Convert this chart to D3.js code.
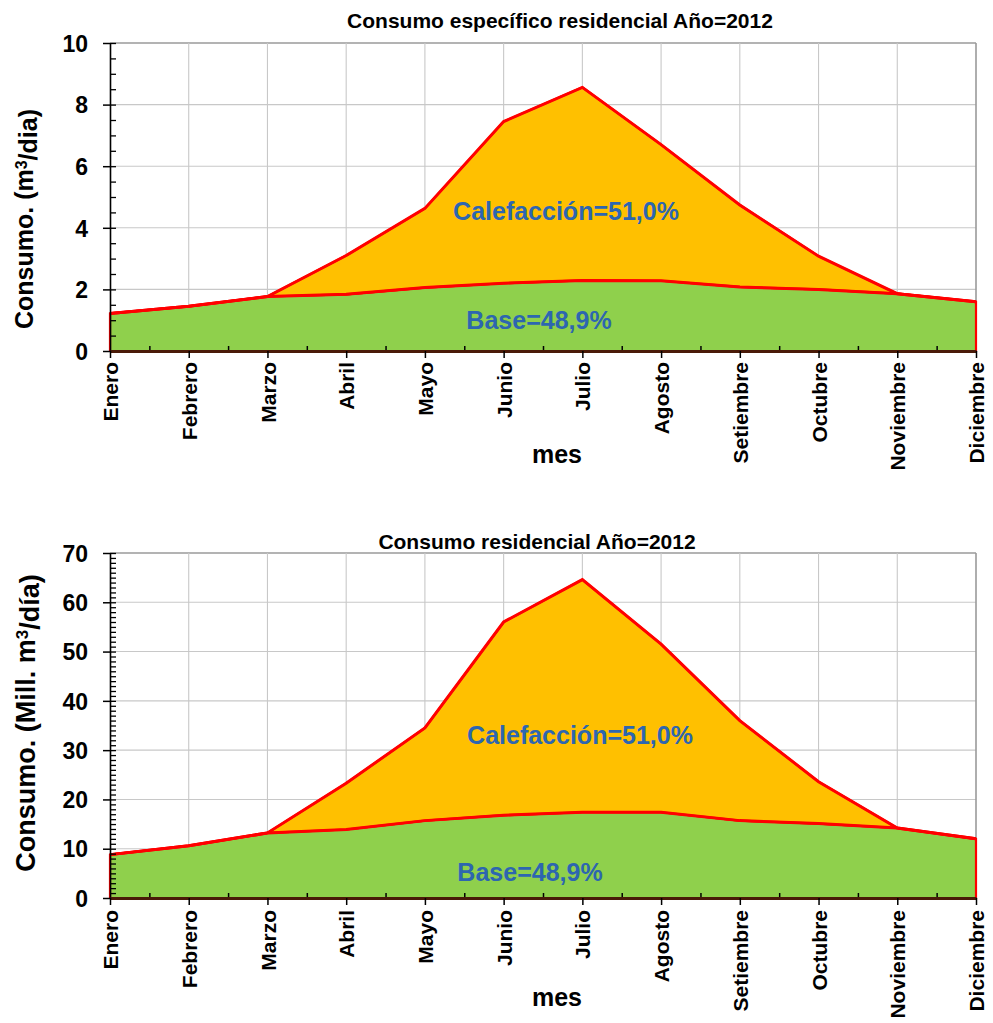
<!DOCTYPE html>
<html><head><meta charset="utf-8">
<script src="https://cdn.jsdelivr.net/npm/d3@7"></script>
<style>
body{margin:0;background:#fff}
svg text{font-family:"Liberation Sans",Arial,Helvetica,sans-serif;font-weight:bold;fill:#000}
</style>
</head><body>
<svg id="chart" width="993" height="1023"></svg>
<script>
// ---- data ----
const months = ["Enero","Febrero","Marzo","Abril","Mayo","Junio","Julio","Agosto","Setiembre","Octubre","Noviembre","Diciembre"];
// Consumo específico residencial (m3/dia)
const baseEsp  = [1.22, 1.45, 1.77, 1.84, 2.06, 2.20, 2.29, 2.28, 2.08, 2.00, 1.86, 1.60];
const totalEsp = [1.22, 1.45, 1.77, 3.10, 4.63, 7.45, 8.56, 6.70, 4.74, 3.08, 1.86, 1.60];
// Consumo residencial (Mill. m3/dia)
const baseRes  = [8.8, 10.6, 13.2, 13.9, 15.7, 16.8, 17.4, 17.4, 15.7, 15.1, 14.2, 12.0];
const totalRes = [8.8, 10.6, 13.2, 23.3, 34.5, 56.0, 64.6, 51.5, 36.0, 23.6, 14.2, 12.0];
const yTicksEsp = [0, 2, 4, 6, 8, 10];
const yTicksRes = [0, 10, 20, 30, 40, 50, 60, 70];
const titleEsp = "Consumo específico residencial Año=2012";
const titleRes = "Consumo residencial Año=2012";
const xTitle = "mes";
const labelCalef = "Calefacción=51,0%";
const labelBase = "Base=48,9%";

const svg = d3.select("#chart");

function drawChart(cfg){
  const g = svg.append("g");
  const x = d3.scaleLinear().domain([0, months.length-1]).range([110, 976]);
  const y = d3.scaleLinear().domain([0, cfg.yTicks[cfg.yTicks.length-1]]).range([cfg.bottom, cfg.top]);
  const idx = d3.range(months.length);
  const yMax = cfg.yTicks[cfg.yTicks.length-1];

  // gridlines
  g.append("g").selectAll("line").data(cfg.yTicks.slice(1)).join("line")
    .attr("x1", x(0)).attr("x2", x(11)).attr("y1", d=>y(d)).attr("y2", d=>y(d))
    .attr("stroke", d=> d===yMax ? "#9a9a9a" : "#c8c8c8")
    .attr("stroke-width", d=> d===yMax ? 1.6 : 1.1);
  g.append("g").selectAll("line").data(idx.slice(1)).join("line")
    .attr("x1", d=>x(d)).attr("x2", d=>x(d)).attr("y1", y(0)).attr("y2", y(yMax))
    .attr("stroke", d=> d===11 ? "#9a9a9a" : "#c8c8c8").attr("stroke-width", d=> d===11 ? 1.6 : 1.1);

  // areas
  const areaBase = d3.area().x((d,i)=>x(i)).y0(y(0)).y1(d=>y(d));
  const areaHeat = d3.area().x((d,i)=>x(i)).y0((d,i)=>y(cfg.base[i])).y1(d=>y(d));
  g.append("path").datum(cfg.base).attr("d", areaBase)
    .attr("fill", "#8fd04c").attr("stroke", "#ff0000").attr("stroke-width", 2.2);
  g.append("path").datum(cfg.total).attr("d", areaHeat)
    .attr("fill", "#ffc000").attr("stroke", "#ff0000").attr("stroke-width", 2.2);
  const line = d3.line().x((d,i)=>x(i)).y(d=>y(d));
  g.append("path").datum(cfg.base).attr("d", line).attr("fill","none").attr("stroke","#ff0000").attr("stroke-width",3);
  g.append("path").datum(cfg.total).attr("d", line).attr("fill","none").attr("stroke","#ff0000").attr("stroke-width",3);

  // y axis: minor ticks (right side)
  const step = cfg.minorStep;
  const minor = d3.range(0, yMax + step/2, step);
  const yMinor = g.append("g").attr("transform", `translate(${x(0)},0)`)
    .call(d3.axisRight(y).tickValues(minor).tickSize(6).tickFormat(""));
  yMinor.select(".domain").remove();
  yMinor.selectAll("line").attr("stroke","#000").attr("stroke-width",1.3);
  const yAx = g.append("g").attr("transform", `translate(${x(0)},0)`)
    .call(d3.axisLeft(y).tickValues(cfg.yTicks).tickSize(7).tickPadding(15).tickSizeOuter(0));
  yAx.select(".domain").attr("stroke","#000").attr("stroke-width",1.6);
  yAx.selectAll("line").attr("stroke","#000").attr("stroke-width",1.5);
  yAx.selectAll("text").style("font-size","23px").attr("dy","0.36em");

  // x axis
  const xMinor = g.append("g").attr("transform", `translate(0,${y(0)})`)
    .call(d3.axisTop(x).tickValues(idx.slice(0,-1).map(d=>d+0.5)).tickSize(5).tickFormat(""));
  xMinor.select(".domain").remove();
  xMinor.selectAll("line").attr("stroke","#000").attr("stroke-width",1.5);
  const xAx = g.append("g").attr("transform", `translate(0,${y(0)})`)
    .call(d3.axisBottom(x).tickValues(idx).tickSize(7).tickSizeOuter(0).tickFormat(i=>months[i]));
  xAx.select(".domain").attr("stroke","#4a1a08").attr("stroke-width",3);
  xAx.selectAll("line").attr("stroke","#000").attr("stroke-width",1.5);
  xAx.selectAll("text")
    .attr("transform","rotate(-90)").attr("x", -cfg.labelGap).attr("y", 0).attr("dy","0.36em")
    .style("text-anchor","end").style("font-size","21px");

  // titles
  g.append("text").attr("x", cfg.titleX).attr("y", cfg.titleY).attr("text-anchor","middle")
    .style("font-size","21px").text(cfg.title);
  g.append("text").attr("x", 557).attr("y", cfg.xTitleY).attr("text-anchor","middle")
    .style("font-size","25px").text(xTitle);
  const yt = g.append("text").attr("transform", `translate(${cfg.yTitleX},${cfg.yTitleC}) rotate(-90)`)
    .attr("text-anchor","middle").style("font-size", cfg.yTitleSize + "px");
  yt.append("tspan").text(cfg.yTitleA);
  yt.append("tspan").attr("dy","-0.4em").style("font-size", Math.round(cfg.yTitleSize*0.62) + "px").text("3");
  yt.append("tspan").attr("dy","0.4em").text(cfg.yTitleB);

  // annotations
  g.append("text").attr("x", cfg.calefX).attr("y", cfg.calefY).attr("text-anchor","middle")
    .style("font-size","25px").style("fill","#2d66b0").text(labelCalef);
  g.append("text").attr("x", cfg.baseX).attr("y", cfg.baseY).attr("text-anchor","middle")
    .style("font-size","25px").style("fill","#2d66b0").text(labelBase);
}

drawChart({top:43, bottom:351, yTicks:yTicksEsp, minorStep:0.5, base:baseEsp, total:totalEsp,
  title:titleEsp, titleX:560, titleY:28, xTitleY:463, labelGap:11,
  yTitleA:"Consumo. (m", yTitleB:"/dia)", yTitleC:219, yTitleX:33, yTitleSize:25,
  calefX:566, calefY:220, baseX:539, baseY:329});
drawChart({top:553, bottom:898, yTicks:yTicksRes, minorStep:1, base:baseRes, total:totalRes,
  title:titleRes, titleX:537, titleY:549, xTitleY:1006, labelGap:12,
  yTitleA:"Consumo. (Mill. m", yTitleB:"/día)", yTitleC:723, yTitleX:35, yTitleSize:27,
  calefX:580, calefY:744, baseX:530, baseY:881});
</script>
</body></html>
